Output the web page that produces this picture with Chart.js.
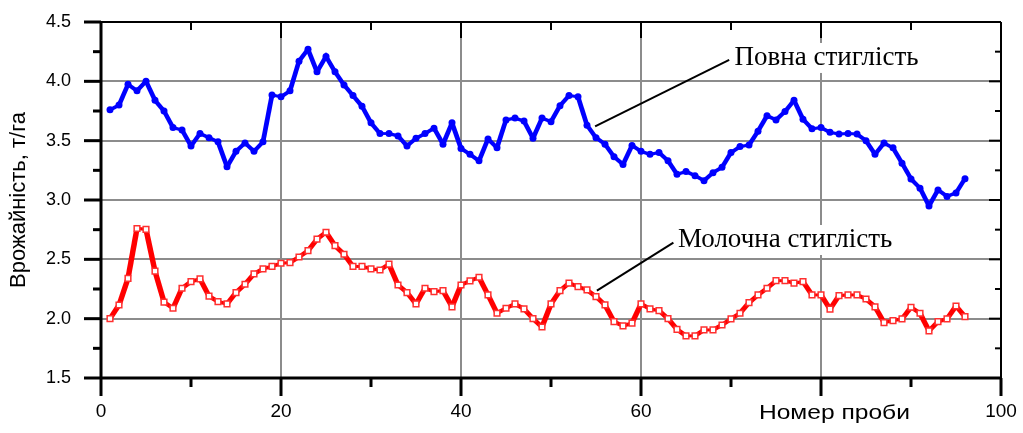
<!DOCTYPE html>
<html>
<head>
<meta charset="utf-8">
<script src="https://cdn.jsdelivr.net/npm/chart.js@4"></script>
<style>
  body { margin: 0; background: #fff; }
  canvas { display: block; }
</style>
</head>
<body>
<canvas id="yieldChart" width="1023" height="433"></canvas>
<script>
// номер проби
const sampleNo = [
  1, 2, 3, 4, 5, 6, 7, 8, 9, 10, 11, 12, 13, 14, 15, 16, 17, 18, 19, 20,
  21, 22, 23, 24, 25, 26, 27, 28, 29, 30, 31, 32, 33, 34, 35, 36, 37, 38, 39, 40,
  41, 42, 43, 44, 45, 46, 47, 48, 49, 50, 51, 52, 53, 54, 55, 56, 57, 58, 59, 60,
  61, 62, 63, 64, 65, 66, 67, 68, 69, 70, 71, 72, 73, 74, 75, 76, 77, 78, 79, 80,
  81, 82, 83, 84, 85, 86, 87, 88, 89, 90, 91, 92, 93, 94, 95, 96
];

// повна стиглість, т/га
const fullRipeness = [
  3.76, 3.80, 3.975, 3.92, 4.00, 3.84, 3.75, 3.61, 3.59, 3.455,
  3.56, 3.525, 3.49, 3.28, 3.41, 3.48, 3.41, 3.49, 3.885, 3.87,
  3.92, 4.17, 4.27, 4.08, 4.21, 4.08, 3.97, 3.88, 3.79, 3.65,
  3.56, 3.56, 3.54, 3.455, 3.52, 3.56, 3.605, 3.47, 3.65, 3.435,
  3.385, 3.33, 3.515, 3.44, 3.675, 3.69, 3.665, 3.52, 3.69, 3.66,
  3.795, 3.88, 3.87, 3.63, 3.525, 3.47, 3.365, 3.30, 3.46, 3.41,
  3.385, 3.40, 3.33, 3.217, 3.24, 3.205, 3.163, 3.23, 3.275, 3.40,
  3.45, 3.464, 3.58, 3.71, 3.675, 3.745, 3.84, 3.68, 3.60, 3.61,
  3.57, 3.556, 3.56, 3.556, 3.50, 3.385, 3.48, 3.44, 3.31, 3.177,
  3.10, 2.95, 3.085, 3.03, 3.06, 3.18
];

// молочна стиглість, т/га
const milkRipeness = [
  2.00, 2.115, 2.34, 2.76, 2.753, 2.40, 2.14, 2.088, 2.256, 2.312,
  2.335, 2.19, 2.144, 2.124, 2.22, 2.29, 2.377, 2.42, 2.44, 2.467,
  2.472, 2.52, 2.573, 2.67, 2.728, 2.615, 2.543, 2.44, 2.44, 2.42,
  2.41, 2.459, 2.284, 2.22, 2.124, 2.256, 2.228, 2.236, 2.10, 2.284,
  2.318, 2.349, 2.20, 2.046, 2.088, 2.124, 2.082, 2.00, 1.93, 2.124,
  2.236, 2.30, 2.27, 2.242, 2.186, 2.116, 1.975, 1.939, 1.962, 2.124,
  2.082, 2.068, 2.00, 1.91, 1.855, 1.855, 1.905, 1.905, 1.947, 1.998,
  2.046, 2.135, 2.20, 2.256, 2.32, 2.32, 2.30, 2.312, 2.20, 2.20,
  2.08, 2.194, 2.20, 2.20, 2.166, 2.10, 1.967, 1.984, 1.998, 2.096,
  2.046, 1.897, 1.975, 1.998, 2.107, 2.017
];

const xTicks = [0, 20, 40, 60, 80, 100];
const xMinorTicks = [10, 30, 50, 70, 90];
const xHiddenLabels = [80]; // на місці «80» стоїть назва осі
const yTicks = [1.5, 2.0, 2.5, 3.0, 3.5, 4.0, 4.5];
const yMinorTicks = [1.75, 2.25, 2.75, 3.25, 3.75, 4.25];

// підписи кривих: текст, точка тексту, відрізок-виноска
const curveLabels = [
  { text: 'Повна стиглість', at: [70.4, 4.197], from: [54.9, 3.62], to: [69.8, 4.18] },
  { text: 'Молочна стиглість', at: [64.1, 2.663], from: [55.1, 2.237], to: [63.6, 2.64] }
];

const toPoints = (ys) => sampleNo.map((x, i) => ({ x: x, y: ys[i] }));

// у скані круті відрізки виглядають товщими за пологі
const slopeWidth = (base, extra) => (c) => {
  const dx = c.p1.x - c.p0.x, dy = c.p1.y - c.p0.y;
  const len = Math.hypot(dx, dy) || 1;
  return base + extra * Math.abs(dy) / len;
};

// прибираємо автоматичні відступи під крайні підписи, щоб область графіка задавав layout.padding
const noEdgePadding = (s) => {
  s.paddingTop = 0; s.paddingBottom = 0; s.paddingLeft = 0; s.paddingRight = 0;
};

// рамка з рисками і підписи
const framePlugin = {
  id: 'frame',
  afterDatasetsDraw(chart) {
    const { ctx, chartArea: a, scales: { x, y } } = chart;
    ctx.save();
    ctx.strokeStyle = '#000';

    const seg = (x1, y1, x2, y2) => {
      ctx.beginPath(); ctx.moveTo(x1, y1); ctx.lineTo(x2, y2); ctx.stroke();
    };
    ctx.lineWidth = 3;
    xTicks.forEach(v => {
      const px = x.getPixelForValue(v);
      seg(px, a.bottom, px, a.bottom + 18);
    });
    xMinorTicks.forEach(v => {
      const px = x.getPixelForValue(v);
      seg(px, a.bottom, px, a.bottom + 9);
    });
    yTicks.forEach(v => {
      const py = y.getPixelForValue(v);
      seg(a.left - 17, py, a.left, py);
    });
    yMinorTicks.forEach(v => {
      const py = y.getPixelForValue(v);
      seg(a.left - 8, py, a.left, py);
    });
    ctx.lineWidth = 2;
    xTicks.forEach(v => {
      const px = x.getPixelForValue(v);
      seg(px, a.top, px, a.top + 16);
    });
    xMinorTicks.forEach(v => {
      const px = x.getPixelForValue(v);
      seg(px, a.top, px, a.top + 8);
    });
    yTicks.forEach(v => {
      const py = y.getPixelForValue(v);
      seg(a.right - 12, py, a.right, py);
    });
    yMinorTicks.forEach(v => {
      const py = y.getPixelForValue(v);
      seg(a.right - 6, py, a.right, py);
    });

    // рамка
    ctx.lineWidth = 2;
    seg(a.left, a.top, a.right, a.top);
    seg(a.right, a.top, a.right, a.bottom);
    ctx.lineWidth = 3;
    seg(a.left, a.top - 1, a.left, a.bottom + 1);
    seg(a.left - 1, a.bottom, a.right + 1, a.bottom);
    ctx.restore();
  },
  afterDraw(chart) {
    const { ctx, scales: { x, y } } = chart;
    ctx.save();

    // назва осі X (у оригіналі трохи розтягнута по ширині)
    ctx.fillStyle = '#000';
    ctx.font = '21px "Liberation Sans", Arial, sans-serif';
    ctx.textAlign = 'left';
    ctx.textBaseline = 'middle';
    const title = 'Номер проби';
    const tw = ctx.measureText(title).width;
    ctx.save();
    ctx.translate(x.getPixelForValue(73.1), 413);
    ctx.scale(151 / tw, 1);
    ctx.fillText(title, 0, 0);
    ctx.restore();

    // підписи кривих
    ctx.font = '27px "Liberation Serif", "Times New Roman", serif';
    curveLabels.forEach(l => {
      ctx.strokeStyle = '#000';
      ctx.lineWidth = 2;
      ctx.beginPath();
      ctx.moveTo(x.getPixelForValue(l.from[0]), y.getPixelForValue(l.from[1]));
      ctx.lineTo(x.getPixelForValue(l.to[0]), y.getPixelForValue(l.to[1]));
      ctx.stroke();
      const tx = x.getPixelForValue(l.at[0]);
      const ty = y.getPixelForValue(l.at[1]);
      const w = ctx.measureText(l.text).width;
      ctx.fillStyle = '#fff';
      ctx.fillRect(tx - 2, ty - 15, w + 4, 30);
      ctx.fillStyle = '#000';
      ctx.fillText(l.text, tx, ty);
    });
    ctx.restore();
  }
};

new Chart(document.getElementById('yieldChart'), {
  type: 'line',
  data: {
    datasets: [
      {
        label: 'Повна стиглість',
        data: toPoints(fullRipeness),
        borderColor: '#0000ff',
        backgroundColor: '#0000ff',
        borderWidth: 3.5,
        segment: { borderWidth: slopeWidth(2.8, 2) },
        pointRadius: 3.5,
        pointBorderWidth: 0,
        pointStyle: 'circle',
        tension: 0
      },
      {
        label: 'Молочна стиглість',
        data: toPoints(milkRipeness),
        borderColor: '#ff0000',
        backgroundColor: '#ffffff',
        borderWidth: 4,
        segment: { borderWidth: slopeWidth(3, 2.5) },
        pointRadius: 4,
        pointBorderWidth: 1.5,
        pointBorderColor: '#ff3030',
        pointStyle: 'rect',
        tension: 0
      }
    ]
  },
  options: {
    responsive: false,
    animation: false,
    devicePixelRatio: 1,
    layout: { padding: { top: 22, right: 22, left: 0, bottom: 0 } },
    plugins: {
      legend: { display: false },
      tooltip: { enabled: false }
    },
    scales: {
      x: {
        type: 'linear',
        min: 0,
        max: 100,
        afterFit: (s) => { s.height = 55; noEdgePadding(s); },
        border: { display: false },
        grid: {
          drawTicks: false,
          lineWidth: 2,
          color: (c) => (c.tick && c.tick.value > 0 && c.tick.value < 100) ? '#8c8c8c' : 'rgba(0,0,0,0)'
        },
        ticks: {
          stepSize: 20,
          padding: 22,
          maxRotation: 0,
          color: '#000',
          font: { family: '"Liberation Sans Narrow", "Liberation Sans", Arial, sans-serif', size: 19 },
          callback: (v) => xHiddenLabels.includes(v) ? '' : v
        }
      },
      y: {
        min: 1.5,
        max: 4.5,
        afterFit: (s) => { s.width = 101; noEdgePadding(s); },
        border: { display: false },
        grid: {
          drawTicks: false,
          lineWidth: 2,
          color: (c) => (c.tick && c.tick.value > 1.5 && c.tick.value < 4.5) ? '#8c8c8c' : 'rgba(0,0,0,0)'
        },
        ticks: {
          stepSize: 0.5,
          padding: 30,
          color: '#000',
          font: { family: '"Liberation Sans", Arial, sans-serif', size: 18 },
          callback: (v) => v.toFixed(1)
        },
        title: {
          display: true,
          text: 'Врожайність, т/га',
          color: '#000',
          font: { family: '"Liberation Sans", Arial, sans-serif', size: 22 },
          padding: { top: 6, bottom: 0 }
        }
      }
    }
  },
  plugins: [framePlugin]
});
</script>
</body>
</html>
